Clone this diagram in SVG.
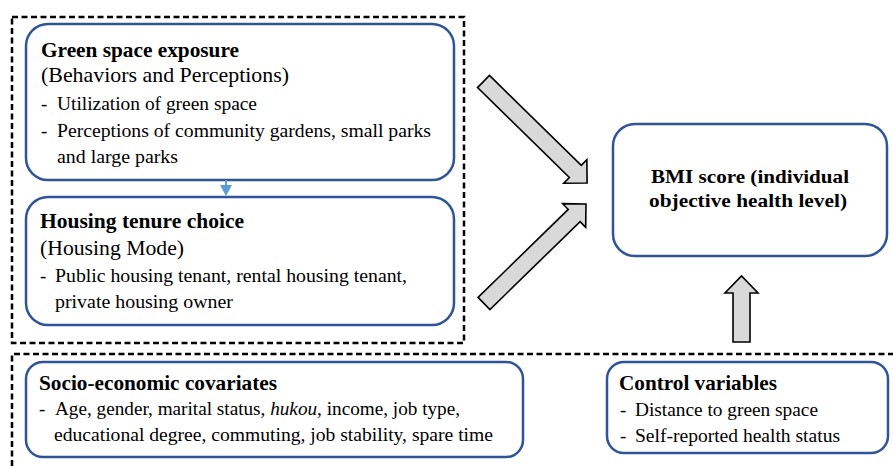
<svg xmlns="http://www.w3.org/2000/svg" width="893" height="466" viewBox="0 0 893 466">
<style>
.frame{fill:none;stroke:#000;stroke-width:2.5;stroke-dasharray:6,3.5}
.box{fill:#fff;stroke:#2F5597;stroke-width:2.5}
.big{fill:#D9D9D9;stroke:#000;stroke-width:1.6;stroke-linejoin:miter}
text{font-family:"Liberation Serif","Times New Roman",serif;fill:#000}
.h{font-size:21px;font-weight:bold}
.s{font-size:21px}
.b{font-size:19px}
.m{font-size:19px;font-weight:bold}
</style>
<rect width="893" height="466" fill="#fff"/>
<rect class="frame" x="12" y="17" width="452" height="326"/>
<path class="frame" d="M12,466 L12,354 L895,354"/>

<g id="green-space">
<rect class="box" x="26" y="24" width="428" height="156" rx="22"/>
<text class="h" x="41" y="57" textLength="198" lengthAdjust="spacingAndGlyphs">Green space exposure</text>
<text class="s" x="41" y="82" textLength="248" lengthAdjust="spacingAndGlyphs">(Behaviors and Perceptions)</text>
<text class="b" x="41" y="110">-</text>
<text class="b" x="57" y="110" textLength="200" lengthAdjust="spacingAndGlyphs">Utilization of green space</text>
<text class="b" x="41" y="137">-</text>
<text class="b" x="57" y="137" textLength="374" lengthAdjust="spacingAndGlyphs">Perceptions of community gardens, small parks</text>
<text class="b" x="57" y="163" textLength="121" lengthAdjust="spacingAndGlyphs">and large parks</text>
</g>

<g id="housing">
<rect class="box" x="26" y="197" width="428" height="128" rx="22"/>
<text class="h" x="40" y="228" textLength="204" lengthAdjust="spacingAndGlyphs">Housing tenure choice</text>
<text class="s" x="40" y="255" textLength="144" lengthAdjust="spacingAndGlyphs">(Housing Mode)</text>
<text class="b" x="40" y="282">-</text>
<text class="b" x="55" y="282" textLength="352" lengthAdjust="spacingAndGlyphs">Public housing tenant, rental housing tenant,</text>
<text class="b" x="55" y="308" textLength="178" lengthAdjust="spacingAndGlyphs">private housing owner</text>
</g>

<g id="bmi">
<rect class="box" x="613" y="124" width="274" height="132" rx="22"/>
<text class="m" x="651" y="183" textLength="198" lengthAdjust="spacingAndGlyphs">BMI score (individual</text>
<text class="m" x="649" y="207" textLength="198" lengthAdjust="spacingAndGlyphs">objective health level)</text>
</g>

<g id="socio">
<rect class="box" x="26" y="362" width="497" height="95" rx="17"/>
<text class="h" x="39" y="390" textLength="238" lengthAdjust="spacingAndGlyphs">Socio-economic covariates</text>
<text class="b" x="39" y="415">-</text>
<text class="b" x="55" y="415" textLength="405" lengthAdjust="spacingAndGlyphs">Age, gender, marital status, <tspan font-style="italic">hukou</tspan>, income, job type,</text>
<text class="b" x="54" y="441" textLength="439" lengthAdjust="spacingAndGlyphs">educational degree, commuting, job stability, spare time</text>
</g>

<g id="control">
<rect class="box" x="607" y="362" width="281" height="91" rx="17"/>
<text class="h" x="619" y="390" textLength="158" lengthAdjust="spacingAndGlyphs">Control variables</text>
<text class="b" x="620" y="416">-</text>
<text class="b" x="635" y="416" textLength="183" lengthAdjust="spacingAndGlyphs">Distance to green space</text>
<text class="b" x="620" y="442">-</text>
<text class="b" x="635" y="442" textLength="205" lengthAdjust="spacingAndGlyphs">Self-reported health status</text>
</g>

<g id="connectors">
<line x1="226" y1="180" x2="226" y2="186" stroke="#5B9BD5" stroke-width="2"/>
<polygon points="220,185 232,185 226,196" fill="#5B9BD5"/>
<path class="big" transform="translate(483.5,81.5) rotate(44.4)" d="M0,-8.5 L128.5,-8.5 L128.5,-16.5 L145,0 L128.5,16.5 L128.5,8.5 L0,8.5 Z"/>
<path class="big" transform="translate(484,303.5) rotate(-44.3)" d="M0,-8.5 L126,-8.5 L126,-16.5 L142.5,0 L126,16.5 L126,8.5 L0,8.5 Z"/>
<polygon class="big" points="733,342 733,293 725,293 741.5,276 758,293 750,293 750,342"/>
</g>
</svg>
